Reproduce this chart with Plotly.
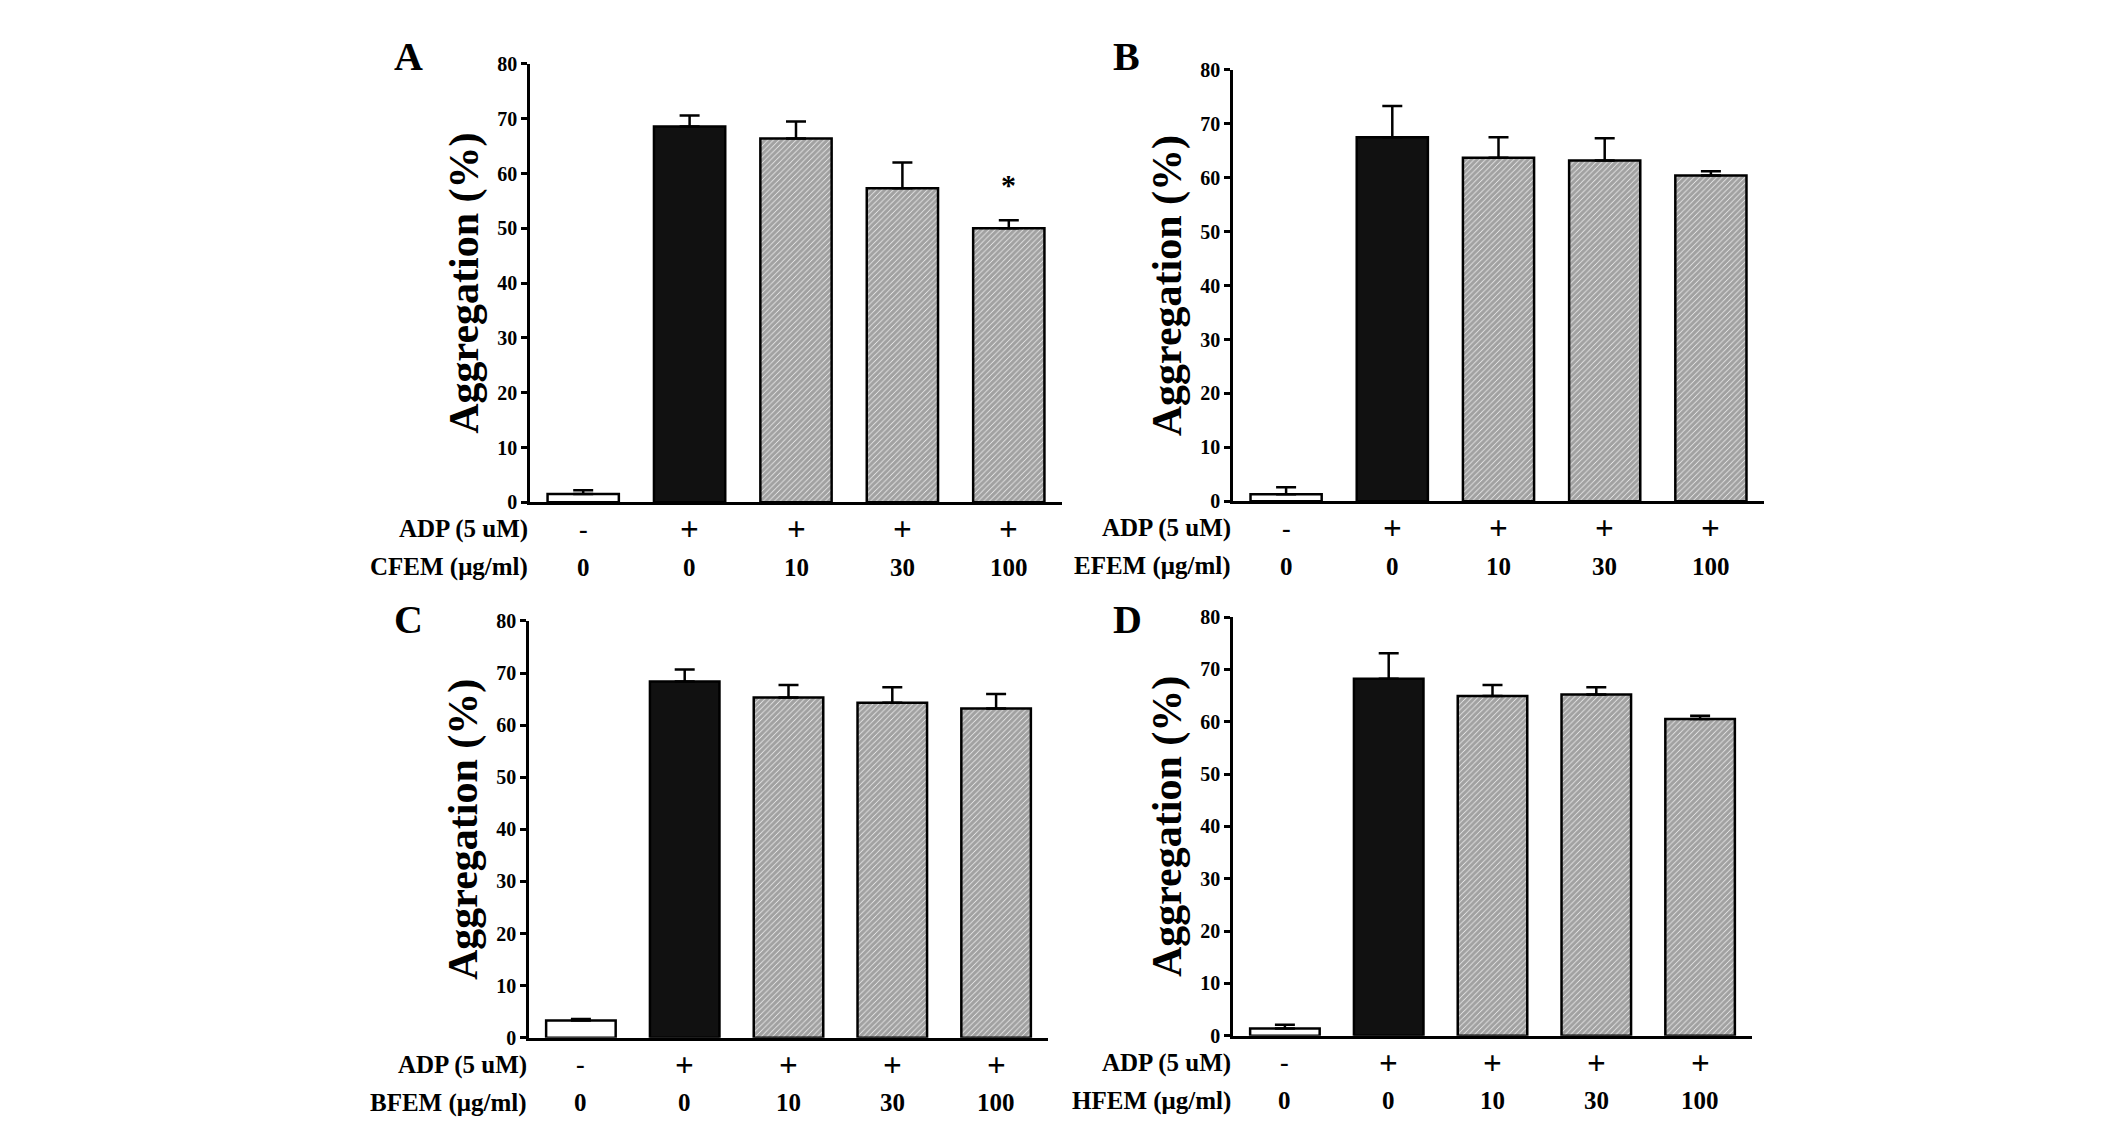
import plotly.graph_objects as go

# ADP row and concentration row under each panel
adp_row = ['-', '+', '+', '+', '+']
conc_row = ['0', '0', '10', '30', '100']

# Aggregation (%) mean and upper error
a_vals = [1.5, 68.6, 66.4, 57.3, 50.0]
a_err = [0.7, 2.0, 3.1, 4.7, 1.5]
b_vals = [1.3, 67.5, 63.7, 63.2, 60.4]
b_err = [1.3, 5.8, 3.8, 4.1, 0.8]
c_vals = [3.3, 68.4, 65.3, 64.3, 63.2]
c_err = [0.3, 2.3, 2.4, 3.0, 2.8]
d_vals = [1.4, 68.2, 64.9, 65.2, 60.5]
d_err = [0.7, 4.9, 2.1, 1.4, 0.65]

panel_letters = ['A', 'B', 'C', 'D']
extract_names = ['CFEM', 'EFEM', 'BFEM', 'HFEM']

W, H = 2126, 1138
FONT = 'Liberation Serif'

# plot areas in pixels: (x0, x1, ytop, ybottom)
boxes = [(530, 1062, 54, 501), (1233, 1764, 60, 500),
         (529, 1048, 622, 1047), (1233, 1752, 618, 1045)]
letter_pos = [(408, 46), (1126, 46), (408, 621), (1127, 621)]

data = [(a_vals, a_err), (b_vals, b_err), (c_vals, c_err), (d_vals, d_err)]

fig = go.Figure()
layout = dict(width=W, height=H, margin=dict(l=0, r=0, t=0, b=0),
              paper_bgcolor='white', plot_bgcolor='white', showlegend=False,
              font=dict(family=FONT, color='black', weight='bold'))
annotations = []

for i, (vals, err) in enumerate(data):
    n = '' if i == 0 else str(i + 1)
    x0, x1, yt, yb = boxes[i]
    fig.add_trace(go.Bar(
        x=list(range(5)), y=vals, width=0.67,
        xaxis='x' + n, yaxis='y' + n,
        marker=dict(color=['white', '#111111', 'white', 'white', 'white'],
                    line=dict(color='black', width=2.5),
                    pattern=dict(shape=['', '', '/', '/', '/'], fgcolor='black',
                                 bgcolor='white', size=4, solidity=0.85)),
        error_y=dict(type='data', symmetric=False, array=err,
                     arrayminus=[0] * 5, color='black', thickness=2.5, width=10),
    ))
    layout['xaxis' + n] = dict(domain=[x0 / W, x1 / W], range=[-0.5, 4.5],
                               anchor='y' + n, showline=True, linecolor='black',
                               linewidth=2.5, ticks='', showticklabels=False,
                               showgrid=False, zeroline=False, fixedrange=True)
    layout['yaxis' + n] = dict(domain=[1 - yb / H, 1 - yt / H], range=[0, 80],
                               anchor='x' + n, dtick=10, showline=True,
                               linecolor='black', linewidth=2.5, ticks='outside',
                               ticklen=6, tickwidth=2.5, tickcolor='black',
                               showgrid=False, zeroline=False,
                               tickfont=dict(family=FONT, size=20, weight='bold'),
                               title=dict(text='Aggregation (%)', standoff=6,
                                          font=dict(family=FONT, size=42, weight='bold')))

    xr = 'x' + n
    ydom = 'y' + n + ' domain'
    for k in range(5):
        sign_size = 26 if adp_row[k] == '-' else 33
        annotations.append(dict(x=k, y=0, xref=xr, yref=ydom, yshift=-27,
                                text=adp_row[k], showarrow=False, yanchor='middle',
                                font=dict(size=sign_size, weight='bold')))
        annotations.append(dict(x=k, y=0, xref=xr, yref=ydom, yshift=-65,
                                text=conc_row[k], showarrow=False, yanchor='middle',
                                font=dict(size=25, weight='bold')))
    annotations.append(dict(x=0, y=0, xref=xr + ' domain', yref=ydom, yshift=-27,
                            xanchor='right', xshift=0, text='ADP (5 uM)',
                            showarrow=False, yanchor='middle',
                            font=dict(size=25, weight='bold')))
    annotations.append(dict(x=0, y=0, xref=xr + ' domain', yref=ydom, yshift=-65,
                            xanchor='right', xshift=0,
                            text=extract_names[i] + ' (μg/ml)',
                            showarrow=False, yanchor='middle',
                            font=dict(size=25, weight='bold')))
    lx, ly = letter_pos[i]
    annotations.append(dict(x=lx / W, y=1 - ly / H, xref='paper', yref='paper',
                            text=panel_letters[i], showarrow=False,
                            xanchor='center', yanchor='middle',
                            font=dict(size=40, weight='bold')))

# significance mark on panel A
annotations.append(dict(x=4, y=55.5, xref='x', yref='y', text='*', showarrow=False,
                        yanchor='middle', yshift=14, font=dict(size=30, weight='bold')))

layout['annotations'] = annotations
fig.update_layout(**layout)

# drop the default page margin so the figure fills the window exactly
fig.write_html("out.html", config={'displayModeBar': False},
               post_script="document.body.style.margin = '0';")
